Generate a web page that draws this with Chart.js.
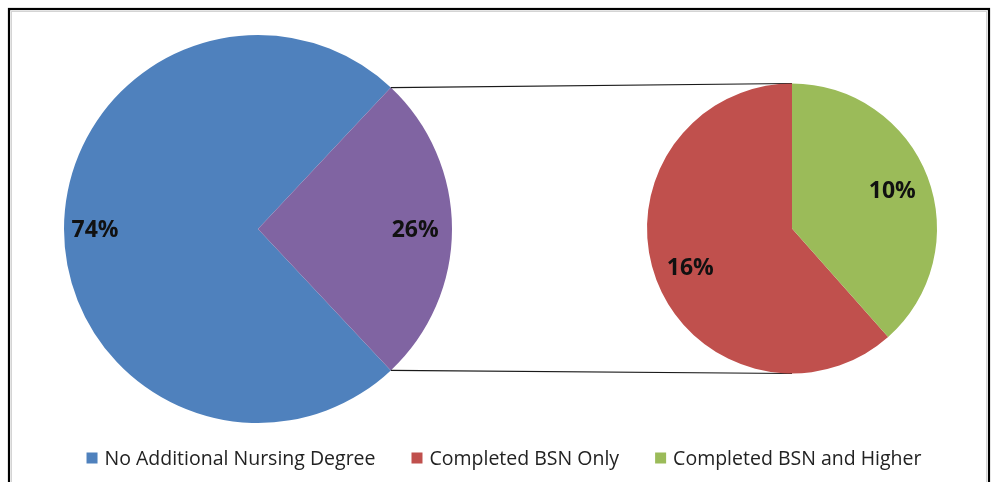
<!DOCTYPE html>
<html>
<head>
<meta charset="utf-8">
<script src="https://cdn.jsdelivr.net/npm/chart.js@4.4.1/dist/chart.umd.min.js"></script>
<style>
  html, body { margin: 0; padding: 0; background: #fff; }
  #wrap { position: relative; width: 992px; height: 482px; }
  #wrap canvas { position: absolute; left: 0; top: 0; }
</style>
</head>
<body>
<div id="wrap">
  <canvas id="mainPie" width="992" height="482"></canvas>
  <canvas id="subPie" width="992" height="482"></canvas>
</div>
<script>
// main pie: the purple slice is split out into the second pie
const mainLabels = ['No Additional Nursing Degree', 'Additional Nursing Degree'];
const mainValues = [74, 26];
const mainColors = ['#4F81BD', '#8064A2'];

// second pie (shares of all respondents)
const subLabels = ['Completed BSN Only', 'Completed BSN and Higher'];
const subValues = [16, 10];
const subColors = ['#C0504D', '#9BBB59'];

const legendLabels = ['No Additional Nursing Degree', 'Completed BSN Only', 'Completed BSN and Higher'];
const legendColors = ['#4F81BD', '#C0504D', '#9BBB59'];

const FONT = '"Open Sans", "Noto Sans", sans-serif';
Chart.defaults.font.family = FONT;

const sum = arr => arr.reduce((s, v) => s + v, 0);

// white background and the double frame round the picture
const framePlugin = {
    id: 'frame',
    beforeDraw: function (chart) {
        const ctx = chart.ctx;
        ctx.save();
        ctx.fillStyle = '#ffffff';
        ctx.fillRect(0, 0, chart.width, chart.height);
        ctx.strokeStyle = '#d4d4d4';
        ctx.lineWidth = 1;
        ctx.strokeRect(11.5, 11.5, 975, 500);
        ctx.strokeStyle = '#000000';
        ctx.lineWidth = 2.2;
        ctx.strokeRect(9, 9, 980, 500);
        ctx.restore();
    }
};

const sliceLabels = {
    id: 'sliceLabels',
    afterDatasetsDraw: function (chart, args, opts) {
        const ctx = chart.ctx;
        const meta = chart.getDatasetMeta(0);
        const values = chart.data.datasets[0].data;
        ctx.save();
        ctx.font = 'bold 23px ' + FONT;
        ctx.fillStyle = '#111111';
        ctx.textAlign = 'center';
        ctx.textBaseline = 'middle';
        meta.data.forEach((arc, i) => {
            const p = arc.getProps(['x', 'y', 'startAngle', 'endAngle', 'outerRadius'], true);
            const a = (p.startAngle + p.endAngle) / 2;
            const r = p.outerRadius * opts.at[i];
            ctx.fillText(values[i] + '%', p.x + Math.cos(a) * r, p.y + Math.sin(a) * r + 1);
        });
        ctx.restore();
    }
};

const bottomLegend = {
    id: 'bottomLegend',
    afterDraw: function (chart, args, opts) {
        const ctx = chart.ctx;
        ctx.save();
        ctx.font = opts.fontSize + 'px ' + FONT;
        ctx.textBaseline = 'middle';
        const widths = legendLabels.map(t => ctx.measureText(t).width);
        const total = sum(widths) + legendLabels.length * (opts.box + opts.gap) + opts.spacing * (legendLabels.length - 1);
        let x = opts.centerX - total / 2;
        legendLabels.forEach((text, i) => {
            ctx.fillStyle = legendColors[i];
            ctx.fillRect(x, opts.y - opts.box / 2, opts.box, opts.box);
            x += opts.box + opts.gap;
            ctx.fillStyle = '#222222';
            ctx.fillText(text, x, opts.y + 1);
            x += widths[i] + opts.spacing;
        });
        ctx.restore();
    }
};

const mainChart = new Chart(document.getElementById('mainPie'), {
    type: 'pie',
    data: {
        labels: mainLabels,
        datasets: [{ data: mainValues, backgroundColor: mainColors, borderWidth: 0, hoverOffset: 0 }]
    },
    options: {
        responsive: false,
        animation: false,
        radius: 194,
        // purple slice centred on the right-hand side
        rotation: 90 + 180 * mainValues[1] / sum(mainValues),
        layout: { autoPadding: false, padding: { left: 0, right: 476, top: 0, bottom: 24 } },
        events: [],
        plugins: {
            legend: { display: false },
            tooltip: { enabled: false },
            sliceLabels: { at: [0.84, 0.81] },
            bottomLegend: { fontSize: 19.5, box: 11, gap: 7, spacing: 36, centerX: 504, y: 458 }
        }
    },
    plugins: [framePlugin, sliceLabels, bottomLegend]
});

// lines from the purple slice to the top and bottom of the second pie
const connectors = {
    id: 'connectors',
    beforeDatasetsDraw: function (chart) {
        const src = mainChart.getDatasetMeta(0).data[1].getProps(['x', 'y', 'startAngle', 'endAngle', 'outerRadius'], true);
        const dst = chart.getDatasetMeta(0).data[1].getProps(['x', 'y', 'startAngle', 'outerRadius'], true);
        const ctx = chart.ctx;
        const ends = [
            [src.startAngle, dst.startAngle],
            [src.endAngle, dst.startAngle + Math.PI]
        ];
        ctx.save();
        ctx.strokeStyle = '#1a1a1a';
        ctx.lineWidth = 1.2;
        ends.forEach(([a, b]) => {
            ctx.beginPath();
            ctx.moveTo(src.x + Math.cos(a) * src.outerRadius, src.y + Math.sin(a) * src.outerRadius);
            ctx.lineTo(dst.x + Math.cos(b) * dst.outerRadius, dst.y + Math.sin(b) * dst.outerRadius);
            ctx.stroke();
        });
        ctx.restore();
    }
};

const subChart = new Chart(document.getElementById('subPie'), {
    type: 'pie',
    data: {
        labels: subLabels,
        datasets: [{ data: subValues, backgroundColor: subColors, borderWidth: 0, hoverOffset: 0 }]
    },
    options: {
        responsive: false,
        animation: false,
        radius: 145,
        // green slice starts at 12 o'clock
        rotation: 360 * subValues[1] / sum(subValues),
        layout: { autoPadding: false, padding: { left: 592, right: 0, top: 0, bottom: 25 } },
        events: [],
        plugins: {
            legend: { display: false },
            tooltip: { enabled: false },
            sliceLabels: { at: [0.75, 0.74] }
        }
    },
    plugins: [connectors, sliceLabels]
});
</script>
</body>
</html>
